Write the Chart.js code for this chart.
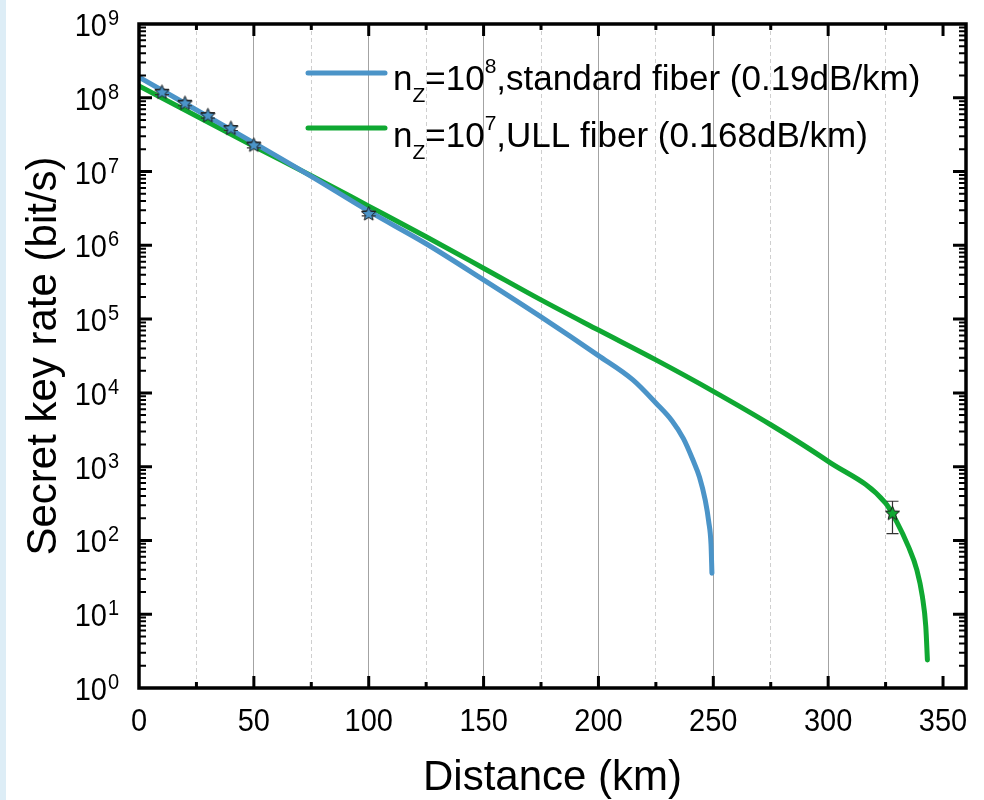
<!DOCTYPE html>
<html>
<head>
<meta charset="utf-8">
<script src="https://cdn.jsdelivr.net/npm/chart.js@4.4.1/dist/chart.umd.min.js"></script>
<style>
  html, body { margin: 0; padding: 0; background: #fff; }
  #wrap { position: relative; width: 984px; height: 800px; }
  #strip { position: absolute; left: 0; top: 0; width: 6px; height: 800px; background: #ddedf6; }
</style>
</head>
<body>
<div id="wrap"><div id="strip"></div><canvas id="myChart"></canvas></div>
<script>
// values
const stdKm   = [0, 50, 75, 100, 125, 150, 175, 200, 215, 225, 232, 237, 241, 244, 246.5, 248, 249, 249.4];
const stdRate = [1.9e8, 2.45e7, 8.6e6, 2.9e6, 1.05e6, 3.4e5, 1.07e5, 3.2e4, 1.5e4, 7.3e3, 4.2e3, 2.4e3, 1.26e3, 7.2e2, 3.5e2, 1.8e2, 89, 36];

const ullKm   = [0, 50, 75, 100, 125, 150, 175, 200, 225, 250, 275, 300, 325, 329.8, 334.9, 338.6, 341, 342.5, 343.2];
const ullRate = [1.45e8, 2.2e7, 8.8e6, 3.4e6, 1.31e6, 4.9e5, 1.82e5, 7.1e4, 2.8e4, 1.05e4, 3.7e3, 1.18e3, 3.2e2, 1.8e2, 83, 40, 17.4, 6.8, 2.4];

// measured points (stars) with error bars
const expStdKm   = [10, 20, 30, 40, 50, 100];
const expStdRate = [1.2e8, 8.5e7, 5.8e7, 3.9e7, 2.3e7, 2.7e6];
const expStdLo   = [1.1e8, 7.8e7, 5.3e7, 3.6e7, 2.1e7, 2.5e6];
const expStdHi   = [1.3e8, 9.2e7, 6.3e7, 4.2e7, 2.5e7, 2.9e6];

const expUllKm   = [328];
const expUllRate = [2.35e2];
const expUllLo   = [1.24e2];
const expUllHi   = [3.4e2];

const xTicks = [0, 50, 100, 150, 200, 250, 300, 350];
const yExps  = [0, 1, 2, 3, 4, 5, 6, 7, 8, 9];

const BLUE = '#4b94c8';
const GREEN = '#0fa832';
const FONT = '"Liberation Sans", Arial, sans-serif';

function pts(xs, ys) {
  return xs.map((x, i) => ({ x: x, y: ys[i] }));
}

function starImg(size, fill, stroke) {
  const c = document.createElement('canvas');
  c.width = size; c.height = size;
  const g = c.getContext('2d');
  const cx = size / 2, cy = size / 2 + 0.5, R = size / 2 - 1, r = R * 0.45;
  g.beginPath();
  for (let i = 0; i < 10; i++) {
    const a = -Math.PI / 2 + i * Math.PI / 5;
    const rr = i % 2 ? r : R;
    g.lineTo(cx + rr * Math.cos(a), cy + rr * Math.sin(a));
  }
  g.closePath();
  g.fillStyle = fill; g.fill();
  g.lineWidth = 1; g.strokeStyle = stroke; g.stroke();
  return c;
}

function txt(ctx, s, x, y, size, align, sy) {
  ctx.font = size + 'px ' + FONT;
  ctx.textAlign = align || 'left';
  if (sy) {
    ctx.save();
    ctx.translate(x, y);
    ctx.scale(1, sy);
    ctx.fillText(s, 0, 0);
    ctx.restore();
  } else {
    ctx.fillText(s, x, y);
  }
  return ctx.measureText(s).width;
}

const errBars = {
  id: 'errBars',
  beforeDatasetDraw(chart, args) {
    const ds = chart.data.datasets[args.index];
    if (!ds.errLo) return;
    const ctx = chart.ctx, xs = chart.scales.x, ys = chart.scales.y;
    ctx.save();
    ctx.strokeStyle = '#333';
    ctx.lineWidth = 1.2;
    ds.data.forEach((p, i) => {
      const x = xs.getPixelForValue(p.x);
      const y1 = ys.getPixelForValue(ds.errLo[i]);
      const y2 = ys.getPixelForValue(ds.errHi[i]);
      const w = ds.capW;
      ctx.beginPath();
      ctx.moveTo(x, y1); ctx.lineTo(x, y2);
      ctx.moveTo(x - w, y1); ctx.lineTo(x + w, y1);
      ctx.moveTo(x - w, y2); ctx.lineTo(x + w, y2);
      ctx.stroke();
    });
    ctx.restore();
  }
};

const frame = {
  id: 'frame',
  afterDatasetsDraw(chart) {
    const ctx = chart.ctx, a = chart.chartArea, xs = chart.scales.x, ys = chart.scales.y;
    ctx.save();
    ctx.strokeStyle = '#000';
    ctx.lineWidth = 3.5;
    ctx.strokeRect(a.left, a.top, a.right - a.left, a.bottom - a.top);
    ctx.lineWidth = 3;
    ctx.beginPath();
    for (let v = 25; v < 360; v += 25) {
      const x = xs.getPixelForValue(v);
      const len = v % 50 === 0 ? 12 : 6;
      ctx.moveTo(x, a.bottom); ctx.lineTo(x, a.bottom - len);
      ctx.moveTo(x, a.top); ctx.lineTo(x, a.top + len);
    }
    yExps.forEach(n => {
      if (n > 0 && n < 9) {
        const y = ys.getPixelForValue(Math.pow(10, n));
        ctx.moveTo(a.left, y); ctx.lineTo(a.left + 13, y);
        ctx.moveTo(a.right, y); ctx.lineTo(a.right - 13, y);
      }
    });
    ctx.stroke();
    ctx.lineWidth = 2;
    ctx.beginPath();
    yExps.forEach(n => {
      if (n === 9) return;
      for (let m = 2; m <= 9; m++) {
        const y = ys.getPixelForValue(m * Math.pow(10, n));
        ctx.moveTo(a.left, y); ctx.lineTo(a.left + 7, y);
        ctx.moveTo(a.right, y); ctx.lineTo(a.right - 7, y);
      }
    });
    ctx.stroke();
    ctx.restore();
  },
  afterDraw(chart) {
    const ctx = chart.ctx, a = chart.chartArea, xs = chart.scales.x, ys = chart.scales.y;
    ctx.save();
    ctx.fillStyle = '#000';
    ctx.textBaseline = 'alphabetic';
    // y tick labels 10^n
    yExps.forEach(n => {
      const y = ys.getPixelForValue(Math.pow(10, n));
      txt(ctx, '10', a.left - 32, y + 12, 29, 'right', 1.1);
      txt(ctx, String(n), a.left - 31, y + 1, 20, 'left', 1.1);
    });
    // x tick labels
    xTicks.forEach(v => {
      txt(ctx, String(v), xs.getPixelForValue(v), a.bottom + 43, 29, 'center', 1.1);
    });
    // axis titles
    txt(ctx, 'Distance (km)', (a.left + a.right) / 2, 790, 42, 'center');
    ctx.save();
    ctx.translate(56, (a.top + a.bottom) / 2);
    ctx.rotate(-Math.PI / 2);
    txt(ctx, 'Secret key rate (bit/s)', 0, 0, 42, 'center');
    ctx.restore();
    // legend
    const rows = [
      { c: BLUE, y: 73, base: 90, sup: '8', rest: ',standard fiber (0.19dB/km)' },
      { c: GREEN, y: 128, base: 147, sup: '7', rest: ',ULL fiber (0.168dB/km)' }
    ];
    rows.forEach(r => {
      ctx.strokeStyle = r.c;
      ctx.lineWidth = 5;
      ctx.lineCap = 'round';
      ctx.beginPath();
      ctx.moveTo(308, r.y); ctx.lineTo(385, r.y);
      ctx.stroke();
      let x = 393;
      x += txt(ctx, 'n', x, r.base, 35);
      x += txt(ctx, 'Z', x, r.base + 12, 21);
      x += txt(ctx, '=10', x, r.base, 35);
      x += txt(ctx, r.sup, x, r.base - 17, 21);
      txt(ctx, r.rest, x, r.base, 35);
    });
    ctx.restore();
  }
};

const ctx = document.getElementById('myChart');
new Chart(ctx, {
  type: 'line',
  data: {
    datasets: [
      {
        label: 'nZ=10^8,standard fiber (0.19dB/km)',
        data: pts(stdKm, stdRate),
        borderColor: BLUE, borderWidth: 5, pointRadius: 0,
        cubicInterpolationMode: 'monotone', borderCapStyle: 'round', borderJoinStyle: 'round',
        order: 2
      },
      {
        label: 'nZ=10^7,ULL fiber (0.168dB/km)',
        data: pts(ullKm, ullRate),
        borderColor: GREEN, borderWidth: 5, pointRadius: 0,
        cubicInterpolationMode: 'monotone', borderCapStyle: 'round', borderJoinStyle: 'round',
        order: 2
      },
      {
        label: 'standard fiber data',
        data: pts(expStdKm, expStdRate),
        errLo: expStdLo, errHi: expStdHi, capW: 7,
        showLine: false, pointStyle: starImg(17, BLUE, '#1a1a1a'),
        order: 1
      },
      {
        label: 'ULL fiber data',
        data: pts(expUllKm, expUllRate),
        errLo: expUllLo, errHi: expUllHi, capW: 6,
        showLine: false, pointStyle: starImg(17, GREEN, '#1a1a1a'),
        order: 1
      }
    ]
  },
  options: {
    responsive: true,
    maintainAspectRatio: false,
    animation: false,
    layout: { padding: { left: 139, right: 18, top: 24, bottom: 112 } },
    plugins: { legend: { display: false }, tooltip: { enabled: false } },
    scales: {
      x: {
        type: 'linear', min: 0, max: 360,
        ticks: { display: false, stepSize: 25 },
        border: {
          display: false,
          dash: (c) => (c.tick && c.tick.value % 50 !== 0 ? [4, 3] : [])
        },
        grid: {
          drawTicks: false,
          lineWidth: 1,
          color: (c) => (c.tick && c.tick.value % 50 !== 0 ? '#cfcfcf' : '#a3a3a3')
        }
      },
      y: {
        type: 'logarithmic', min: 1, max: 1e9,
        ticks: { display: false },
        border: { display: false },
        grid: { display: false, drawTicks: false }
      }
    }
  },
  plugins: [errBars, frame]
});
</script>
</body>
</html>
